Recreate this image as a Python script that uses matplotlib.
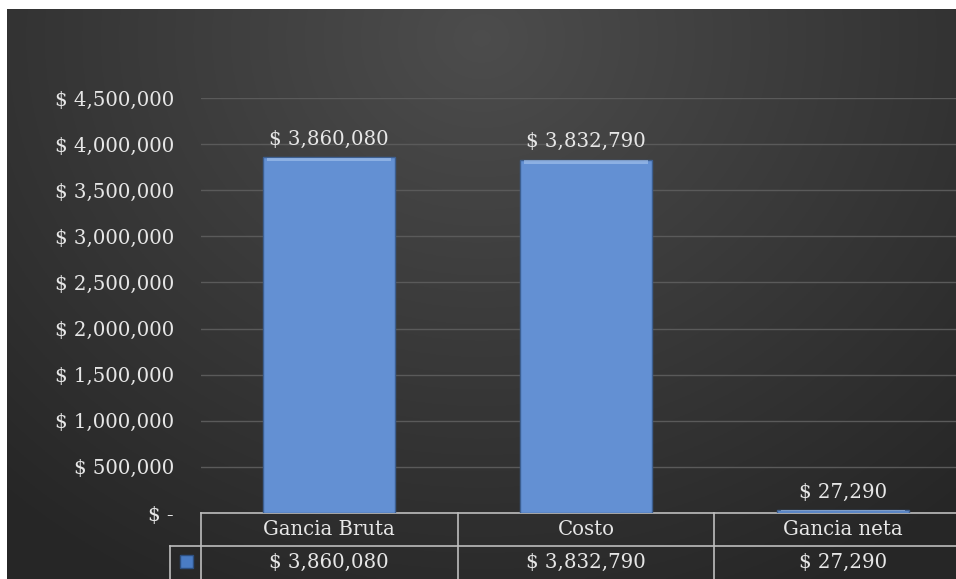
import numpy as np
import matplotlib
matplotlib.use("Agg")
import matplotlib.pyplot as plt
import matplotlib.transforms as mtransforms
from matplotlib.patches import Rectangle

categories = ["Gancia Bruta", "Costo", "Gancia neta"]
values = [3860080, 3832790, 27290]
yticks = [0, 500000, 1000000, 1500000, 2000000, 2500000, 3000000, 3500000, 4000000, 4500000]


def money(v):
    return "$ -" if v == 0 else "$ {:,}".format(v)


W, H = 956, 579
fig = plt.figure(figsize=(W / 100, H / 100), dpi=100, facecolor="white")
font = "DejaVu Serif"
fs = 14.2
txt = "#e6e6e6"
linec = "#bdbdbd"

# dark radial background
bg = fig.add_axes([7 / W, 0, 1 - 7 / W, (H - 9) / H])
yy, xx = np.mgrid[0:1:300j, 0:1:500j]
r = np.sqrt(((xx - 0.5) / 0.75) ** 2 + ((yy - 0.05) / 1.1) ** 2)
shade = 0.30 - 0.15 * np.clip(r, 0, 1)
bg.imshow(np.dstack([shade] * 3), aspect="auto", extent=[0, 1, 0, 1], origin="upper")
bg.axis("off")

# plot area
left, right, y0, ytop = 200.5, 956, 513, 98
ax = fig.add_axes([left / W, (H - y0) / H, (right - left) / W, (y0 - ytop) / H])
ax.patch.set_alpha(0)
x = np.arange(len(categories))
ax.bar(x, values, width=0.51, color="#6390d3", edgecolor="#3d5f90", linewidth=1.0, zorder=3)
ax.bar(x, [v * 0.01 for v in values], bottom=[v * 0.988 for v in values], width=0.48,
       color="#a9c6ef", alpha=0.6, linewidth=0, zorder=4)
for xi, v in zip(x, values):
    ax.text(xi, v + 90000, money(v), ha="center", va="bottom", color=txt,
            fontsize=fs, family=font, zorder=5)

ax.set_xlim(-0.5, -0.5 + (right - left) / 257)
ax.set_ylim(0, 4500000)
ax.set_yticks(yticks)
ax.set_yticklabels([money(v) for v in yticks], family=font, fontsize=fs, color=txt)
ax.tick_params(axis="y", length=0, pad=19)
ax.set_xticks([])
ax.grid(axis="y", color="#5a5a5a", linewidth=1, zorder=0)
for s in ax.spines.values():
    s.set_visible(False)

# data table below the axis
tr = mtransforms.blended_transform_factory(ax.transData, fig.transFigure)
row1, row2, row3 = (H - 513) / H, (H - 546) / H, 0
ax.plot([-0.5, 3], [row1, row1], color=linec, lw=1.2, transform=tr, clip_on=False)
ax.plot([-0.62, 3], [row2, row2], color=linec, lw=1.2, transform=tr, clip_on=False)
for b in [-0.5, 0.5, 1.5]:
    ax.plot([b, b], [row1, row3], color=linec, lw=1.2, transform=tr, clip_on=False)
ax.plot([-0.62, -0.62], [row2, row3], color=linec, lw=1.2, transform=tr, clip_on=False)
for xi, cat, v in zip(x, categories, values):
    ax.text(xi, (row1 + row2) / 2, cat, ha="center", va="center", color=txt,
            fontsize=fs, family=font, transform=tr)
    ax.text(xi, (row2 + row3) / 2, money(v), ha="center", va="center", color=txt,
            fontsize=fs, family=font, transform=tr)
fig.patches.append(Rectangle((180 / W, (H - 568) / H), 13 / W, 13 / H, transform=fig.transFigure,
                             facecolor="#4a7cc4", edgecolor="#2d4f80", lw=1))

fig.savefig("out.png", dpi=100, facecolor="white")
